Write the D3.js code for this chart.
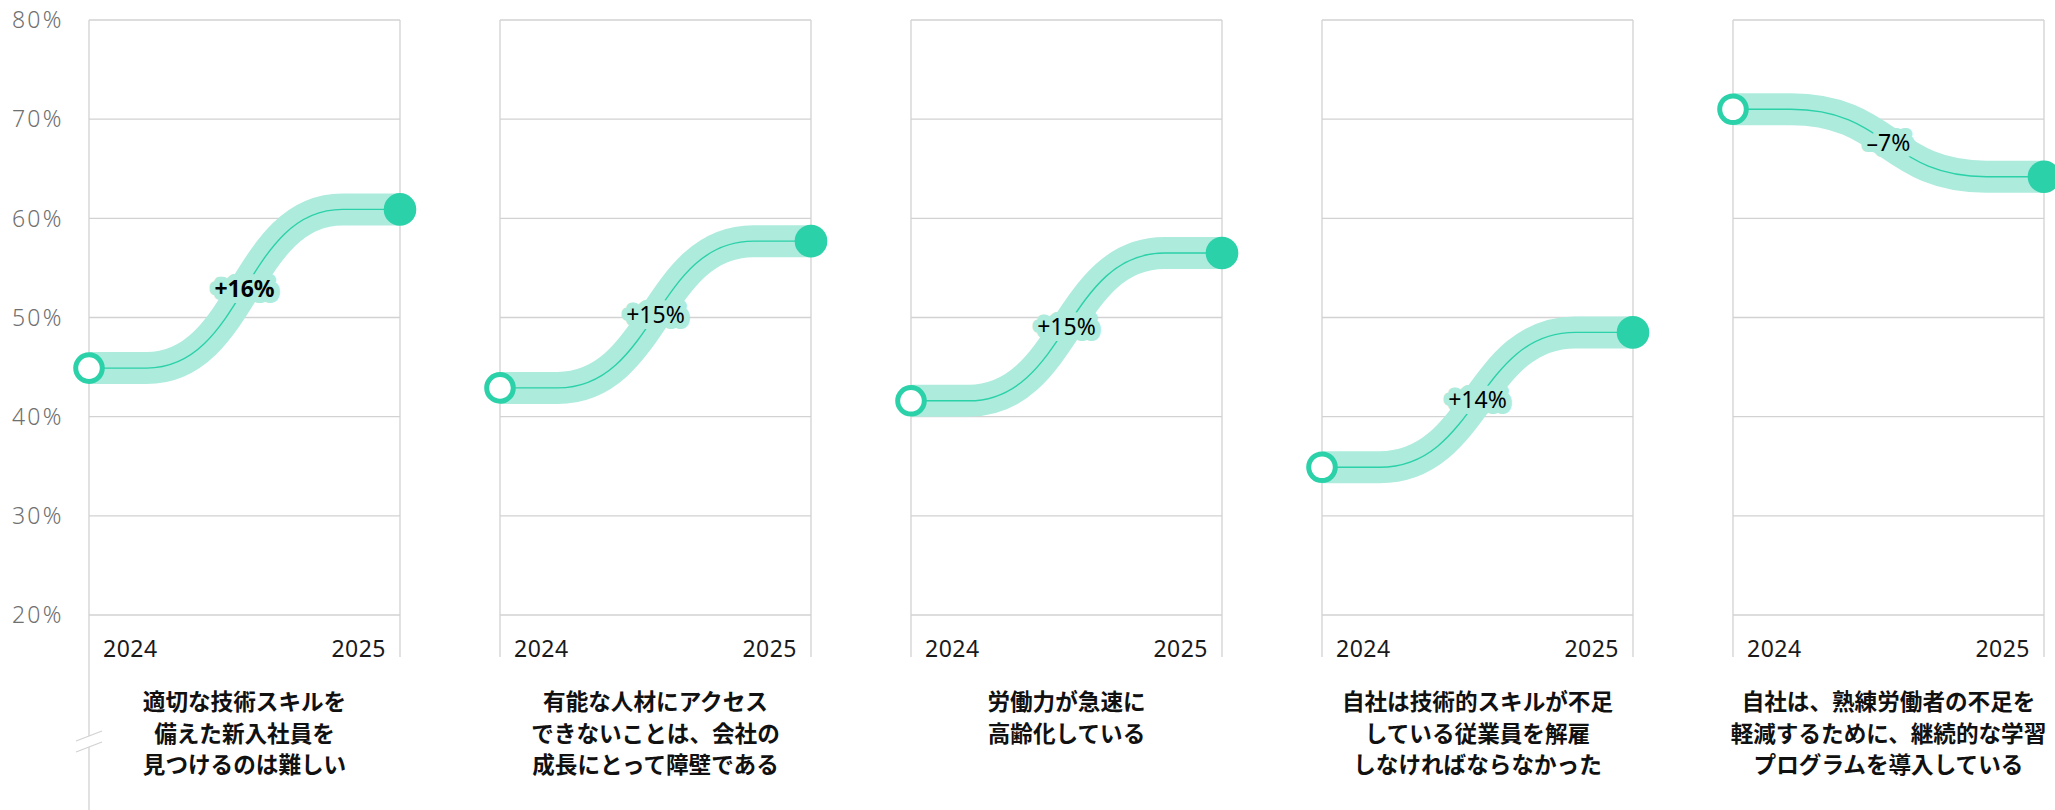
<!DOCTYPE html>
<html>
<head>
<meta charset="utf-8">
<script src="https://cdn.jsdelivr.net/npm/d3@7"></script>
<style>
  html, body { margin: 0; padding: 0; background: #fff; }
  svg { display: block; }
</style>
</head>
<body>
<svg id="chart" width="2055" height="810"></svg>
<script>
// ---- data ----
const categories = [
  ["適切な技術スキルを", "備えた新入社員を", "見つけるのは難しい"],
  ["有能な人材にアクセス", "できないことは、会社の", "成長にとって障壁である"],
  ["労働力が急速に", "高齢化している"],
  ["自社は技術的スキルが不足", "している従業員を解雇", "しなければならなかった"],
  ["自社は、熟練労働者の不足を", "軽減するために、継続的な学習", "プログラムを導入している"]
];
const years = ["2024", "2025"];
const values2024 = [44.9, 42.9, 41.6, 34.9, 71.0];
const values2025 = [60.9, 57.7, 56.5, 48.5, 64.2];
const changeLabels = ["+16%", "+15%", "+15%", "+14%", "–7%"];
const yTicks = [20, 30, 40, 50, 60, 70, 80];

// ---- layout ----
const svg = d3.select("#chart");
const plotTop = 20, plotBottom = 615;
const panelX0 = 89, panelStep = 411, panelW = 311;
const yearY = 657;
const bandColor = "#ADEBDD", lineColor = "#2BD1A8", gridColor = "#d2d2d2";
const latin = "'Noto Sans', 'Noto Sans CJK JP', sans-serif";
const cjk = "'Noto Sans CJK JP', 'Noto Sans', sans-serif";

const y = d3.scaleLinear().domain([20, 80]).range([plotBottom, plotTop]);
const panelBand = d3.scaleBand().domain(d3.range(categories.length))
  .range([panelX0, panelX0 + panelStep * categories.length]).paddingInner(0).paddingOuter(0);

// y-axis labels
svg.append("g").selectAll("text").data(yTicks).join("text")
  .attr("x", 12)
  .attr("y", d => y(d) + 23 * 0.36)
  .attr("font-family", latin)
  .attr("font-size", 23)
  .attr("font-weight", 300)
  .attr("letter-spacing", "2.2px")
  .attr("fill", "#707070")
  .text(d => d + "%");

categories.forEach((lines, i) => {
  const x0 = panelBand(i);
  const x = d3.scaleLinear().domain([0, 1]).range([x0, x0 + panelW]);
  const g = svg.append("g");

  // horizontal gridlines
  g.selectAll("line.grid").data(yTicks).join("line")
    .attr("class", "grid")
    .attr("x1", x(0)).attr("x2", x(1))
    .attr("y1", d => y(d)).attr("y2", d => y(d))
    .attr("stroke", gridColor).attr("stroke-width", 1.3);

  // vertical frame lines
  g.append("line").attr("x1", x(0)).attr("x2", x(0))
    .attr("y1", plotTop).attr("y2", i === 0 ? 810 : yearY)
    .attr("stroke", gridColor).attr("stroke-width", 1.3);
  g.append("line").attr("x1", x(1)).attr("x2", x(1))
    .attr("y1", plotTop).attr("y2", yearY)
    .attr("stroke", gridColor).attr("stroke-width", 1.3);

  // year labels
  g.append("text").attr("x", x(0) + 14).attr("y", yearY)
    .attr("font-family", latin).attr("font-size", 23).attr("letter-spacing", "0.5px")
    .attr("fill", "#1a1a1a")
    .text(years[0]);
  g.append("text").attr("x", x(1) - 14).attr("y", yearY)
    .attr("text-anchor", "end")
    .attr("font-family", latin).attr("font-size", 23).attr("letter-spacing", "0.5px")
    .attr("fill", "#1a1a1a")
    .text(years[1]);

  // curve
  const v0 = values2024[i], v1 = values2025[i];
  const pts = [[0, v0], [0.185, v0], [0.815, v1], [1, v1]];
  const line = d3.line().x(d => x(d[0])).y(d => y(d[1])).curve(d3.curveBumpX);
  g.append("path").attr("d", line(pts))
    .attr("fill", "none").attr("stroke", bandColor).attr("stroke-width", 32);
  g.append("path").attr("d", line(pts))
    .attr("fill", "none").attr("stroke", lineColor).attr("stroke-width", 1.4);

  // change label
  g.append("text")
    .attr("x", x(0.5))
    .attr("y", y((v0 + v1) / 2) + 23 * 0.36)
    .attr("text-anchor", "middle")
    .attr("font-family", latin).attr("font-size", 23)
    .attr("font-weight", i === 0 ? 700 : 400)
    .attr("fill", "#000")
    .attr("stroke", bandColor).attr("stroke-width", 12)
    .attr("stroke-linejoin", "round")
    .attr("paint-order", "stroke")
    .text(changeLabels[i]);

  // endpoints
  g.append("circle").attr("cx", x(0)).attr("cy", y(v0)).attr("r", 13.3)
    .attr("fill", "#fff").attr("stroke", lineColor).attr("stroke-width", 5);
  g.append("circle").attr("cx", x(1)).attr("cy", y(v1)).attr("r", 16.3)
    .attr("fill", lineColor);

  // category label
  const t = g.append("text")
    .attr("x", x(0.5))
    .attr("y", 710)
    .attr("text-anchor", "middle")
    .attr("font-family", cjk).attr("font-size", 22.6).attr("font-weight", 700)
    .attr("fill", "#111");
  t.selectAll("tspan").data(lines).join("tspan")
    .attr("x", x(0.5))
    .attr("dy", (d, j) => j === 0 ? 0 : 31.5)
    .text(d => d);
});

// axis break marks on first panel's left line
const brk = svg.append("g");
const bx = panelX0;
brk.append("polygon")
  .attr("points", [[bx - 13, 741], [bx + 13, 731], [bx + 13, 742], [bx - 13, 752]].map(p => p.join(",")).join(" "))
  .attr("fill", "#fff");
brk.append("line").attr("x1", bx - 13).attr("y1", 741).attr("x2", bx + 13).attr("y2", 731)
  .attr("stroke", gridColor).attr("stroke-width", 1.3);
brk.append("line").attr("x1", bx - 13).attr("y1", 752).attr("x2", bx + 13).attr("y2", 742)
  .attr("stroke", gridColor).attr("stroke-width", 1.3);
</script>
</body>
</html>
